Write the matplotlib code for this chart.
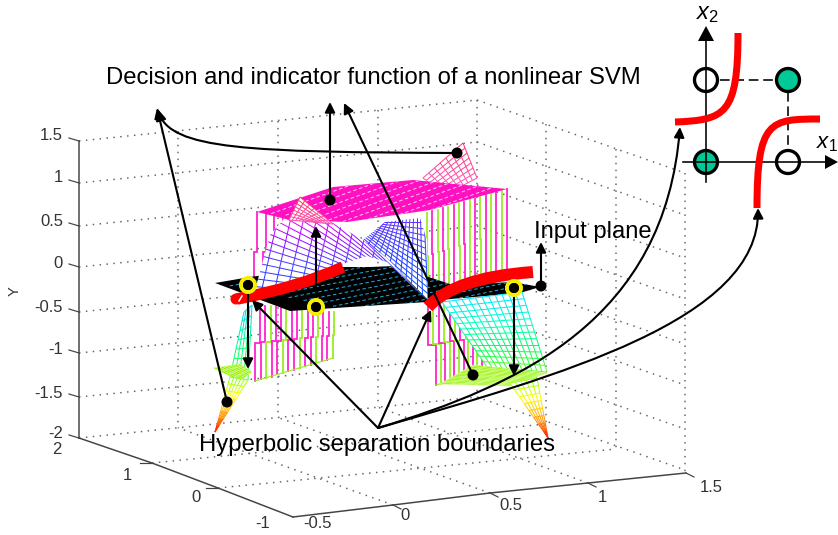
import numpy as np
import matplotlib
matplotlib.use("Agg")
import matplotlib.pyplot as plt
from matplotlib.collections import LineCollection
from matplotlib.patches import FancyArrowPatch, Polygon, Circle, PathPatch
from matplotlib.path import Path
from matplotlib.colors import LinearSegmentedColormap as LSC

plt.rcParams['font.family'] = ['Liberation Sans', 'DejaVu Sans']
plt.rcParams['mathtext.fontset'] = 'custom'
plt.rcParams['mathtext.rm'] = 'Liberation Sans'
plt.rcParams['mathtext.it'] = 'Liberation Sans:italic'

# ---- box (image-plane positions of the 3D MATLAB axes) ----
z_labels = ['1.5', '1', '0.5', '0', '-0.5', '-1', '-1.5', '-2']
z_tick_y = [141, 183, 226, 267, 312, 353, 397, 438]
z_label_y = [136, 178, 221, 263, 307, 350, 393, 434]
left_labels = ['2', '1', '0', '-1']
left_ticks = [(79, 438), (152, 463), (218, 488), (293, 517)]
left_label_pos = [(57, 450), (127, 475), (196, 498), (263, 523)]
right_labels = ['-0.5', '0', '0.5', '1', '1.5']
right_ticks = [(293, 517), (393, 505), (490, 493), (588, 483), (686, 473)]
right_label_pos = [(317, 524), (405, 515), (511, 506), (602, 497), (711, 487)]
back_corner_top = (477, 100)
wall_left_verticals = [178, 278, 378, 477]
wall_right_verticals = [546, 616, 685]

# ---- surfaces: mesh corners and visible outlines ----
plane_quad = [(215, 283), (372, 255), (540, 287), (392, 318)]
plane_outline = [(215, 283), (250, 277), (323, 267), (370, 267), (395, 266), (453, 285), (513, 282),
                 (540, 287), (520, 293), (440, 300), (427, 302), (335, 308), (290, 311)]
top_quad = [(257, 212), (360, 175), (507, 189), (400, 228)]
top_outline = [(257, 212), (333, 187), (413, 180), (507, 189), (430, 210), (347, 222), (290, 220)]
saddle_left = [(246, 302), (278, 160), (428, 300), (428, 300)]
saddle_left_outline = [(255, 290), (270, 235), (290, 212), (333, 223), (363, 240), (387, 258),
                       (427, 300), (387, 262), (367, 256), (348, 262), (300, 283)]
saddle_right = [(362, 240), (382, 221), (424, 216), (428, 300)]
saddle_right_outline = [(363, 240), (385, 222), (420, 218), (427, 240), (428, 300), (387, 258)]
saddle_low = [(442, 302), (522, 292), (547, 372), (487, 367)]
peak_left = [(300, 197), (333, 224), (312, 222), (289, 220)]
peak_right = [(463, 143), (477, 178), (445, 195), (423, 178)]
spike_right = [(510, 383), (537, 378), (548, 438), (548, 438)]
spike_left = [(230, 377), (248, 380), (215, 432), (215, 432)]
stem_left = [(244, 312), (252, 305), (248, 380), (230, 377)]
green_right = [(440, 384), (473, 365), (547, 373), (510, 386)]
green_left = [(213, 368), (240, 364), (252, 372), (240, 381)]
wall_upper_left = ([(257, 212), (300, 222)], [(254, 292), (300, 282)])
wall_lower_left = ([(260, 305), (334, 312)], [(255, 381), (333, 358)])
wall_right_high = ([(427, 213), (507, 189)], [(428, 298), (507, 272)])
wall_right_low = ([(428, 305), (482, 300)], [(436, 385), (482, 372)])

# ---- overlay ----
red_left = [(237, 299), (300, 287), (343, 267)]
red_right = [(428, 307), (447, 287), (480, 276), (533, 272)]
ring_points = [(248, 285), (316, 307), (514, 288)]
title = 'Decision and indicator function of a nonlinear SVM'
hyper_text = 'Hyperbolic separation boundaries'

open_pts = [(706, 80), (788, 162)]
filled_pts = [(788, 80), (706, 162)]
inset_red_a = [(675, 122), (725, 120), (738, 115), (738, 33)]
inset_red_b = [(820, 119), (770, 119), (757, 120), (757, 208)]

fig = plt.figure(figsize=(8.38, 5.35), dpi=100)
ax = fig.add_axes([0, 0, 1, 1])
ax.set_xlim(0, 838)
ax.set_ylim(535, 0)
ax.axis('off')

GRAY = '#444444'
PX = 0.72


def dotted(p, q):
    ax.plot([p[0], q[0]], [p[1], q[1]], color='#666666', lw=1.5 * PX,
            ls=(0, (1, 3.6)), zorder=1)


# grid: back walls and floor
dz_l = back_corner_top[1] - 141
dy_r = 173 - back_corner_top[1]
for y in z_tick_y:
    a = (79, y)
    b = (477, y + dz_l)
    c = (685, y + dz_l + dy_r)
    dotted(a, b)
    dotted(b, c)
for x in wall_left_verticals:
    f = (x - 79) / 398
    dotted((x, 141 + f * dz_l), (x, 438 + f * dz_l))
for x in wall_right_verticals:
    f = (x - 477) / 208
    dotted((x, 100 + f * dy_r), (x, 399 + f * (473 - 399)))
for t, tp in zip(left_ticks[1:3], [(546, 424), (616, 449)]):
    dotted(t, tp)
for t, x in zip(right_ticks[1:4], wall_left_verticals[:3]):
    f = (x - 79) / 398
    dotted(t, (x, 438 + f * dz_l))

# axes lines, ticks, labels
ax.plot([79, 79], [z_tick_y[0], z_tick_y[-1]], color=GRAY, lw=1.5 * PX, zorder=2)
ax.plot([p[0] for p in left_ticks], [p[1] for p in left_ticks], color=GRAY, lw=1.5 * PX, zorder=2)
ax.plot([p[0] for p in right_ticks], [p[1] for p in right_ticks], color=GRAY, lw=1.5 * PX, zorder=2)
for y, ly, s in zip(z_tick_y, z_label_y, z_labels):
    ax.plot([69, 79], [y - 3, y], color=GRAY, lw=1.2 * PX, zorder=2)
    ax.text(63, ly, s, ha='right', va='center', fontsize=12, color='#333333')
for (x, y) in left_ticks[1:3]:
    ax.plot([x - 12, x], [y, y], color=GRAY, lw=1.2 * PX, zorder=2)
for (lx, ly), s in zip(left_label_pos, left_labels):
    ax.text(lx, ly, s, ha='center', va='center', fontsize=12, color='#333333')
for (x, y) in right_ticks[1:]:
    ax.plot([x, x + 8], [y, y + 4], color=GRAY, lw=1.2 * PX, zorder=2)
for (lx, ly), s in zip(right_label_pos, right_labels):
    ax.text(lx, ly, s, ha='center', va='center', fontsize=12, color='#333333')
ax.text(15, 291, 'Y', rotation=90, ha='center', va='center', fontsize=10.5, color='#333333')


def bil(q, u, v):
    q = np.asarray(q, float)
    return ((1 - u) * (1 - v))[..., None] * q[0] + (u * (1 - v))[..., None] * q[1] + \
        (u * v)[..., None] * q[2] + ((1 - u) * v)[..., None] * q[3]


def mesh(q, n, m, cols, z, yr, lw=1.0, clip=None, fill=True):
    """Wire mesh over a four-corner patch; colour follows image height over yr."""
    cm = LSC.from_list('c', cols)
    us, vs = np.linspace(0, 1, n + 1), np.linspace(0, 1, m + 1)
    outline = clip if clip is not None else q
    if fill:
        ax.add_patch(Polygon(outline, fc='white', ec='none', zorder=z - 0.01))
    segs = []
    for u in us:
        for a, b in zip(vs[:-1], vs[1:]):
            segs.append(bil(q, np.array([u, u]), np.array([a, b])))
    for v in vs:
        for a, b in zip(us[:-1], us[1:]):
            segs.append(bil(q, np.array([a, b]), np.array([v, v])))
    colors = [cm(np.clip((s[:, 1].mean() - yr[0]) / (yr[1] - yr[0]), 0, 1)) for s in segs]
    lc = LineCollection(segs, colors=colors, linewidths=lw * PX, zorder=z)
    ax.add_collection(lc)
    if clip is not None:
        lc.set_clip_path(Polygon(clip, transform=ax.transData))


def dash_rows(q, outline, fill, line, m, z, lw=1.0, dash=(3.5, 2.5)):
    """Solid sheet with short parallel dashes, as the dense mesh looks when reduced."""
    ax.add_patch(Polygon(outline, fc=fill, ec='none', zorder=z))
    segs = [bil(q, np.array([0., 1.]), np.array([v, v])) for v in np.linspace(0, 1, m)[1:-1]]
    lc = LineCollection(segs, colors=line, linewidths=lw * PX, linestyles=[(0, dash)], zorder=z + 0.1)
    ax.add_collection(lc)
    lc.set_clip_path(Polygon(outline, transform=ax.transData))


def wall(edges, n, z, colors=('#ff22cc', '#ff22cc', '#99ee22')):
    top, bot = edges
    ts = np.linspace(0, 1, n)
    for i, t in enumerate(ts):
        xt = top[0][0] + t * (top[1][0] - top[0][0])
        yt = top[0][1] + t * (top[1][1] - top[0][1])
        xb = bot[0][0] + t * (bot[1][0] - bot[0][0])
        yb = bot[0][1] + t * (bot[1][1] - bot[0][1])
        col = colors[i % len(colors)]
        ym = (yt + yb) / 2
        ax.plot([xt, xt, xb, xb], [yt, ym, ym, yb], color=col, lw=1.8 * PX, zorder=z,
                solid_joinstyle='miter')
    ax.plot([p[0] for p in bot], [p[1] for p in bot], color='#99ee22', lw=1.2 * PX, zorder=z)


wall(wall_upper_left, 6, 3, ('#ff22cc',))
wall(wall_right_high, 16, 3, ('#99ee22', '#ff22cc'))
wall(wall_lower_left, 15, 3, ('#ff22cc', '#ff22cc', '#99ee22'))
wall(wall_right_low, 11, 3, ('#ff22cc', '#99ee22'))

mesh(peak_right, 7, 7, ['#ff3060', '#ff50b0'], 3.5, (143, 178))

dash_rows(plane_quad, plane_outline, '#000000', '#22a8d8', 13, 4)

MAGENTA_BLUE = ['#ff30e0', '#b000ff', '#4040ff', '#1030ff']
mesh(saddle_left, 18, 14, MAGENTA_BLUE, 5, (205, 295), clip=saddle_left_outline)
mesh(saddle_right, 13, 12, ['#6030ff', '#2040ff', '#0050ff'], 5, (220, 300), clip=saddle_right_outline)
mesh(saddle_low, 12, 12, ['#00e8ff', '#00ffc0', '#00ff60', '#60ff20'], 5.5, (300, 372))
mesh(stem_left, 4, 7, ['#00d0ff', '#00ff90', '#30ff30'], 4.5, (305, 378))

dash_rows(top_quad, top_outline, '#ff10c0', '#ffc8ee', 11, 6)

ax.add_patch(Polygon(green_right, fc='#99f000', ec='none', zorder=6))
mesh(green_right, 14, 6, ['#d8ffa0', '#d8ffa0'], 6.1, (0, 1), lw=0.7, fill=False)
ax.add_patch(Polygon(green_left, fc='#99f000', ec='none', zorder=6))
mesh(green_left, 8, 4, ['#d8ffa0', '#d8ffa0'], 6.1, (0, 1), lw=0.7, fill=False)
FLAME = ['#80ff20', '#ffff00', '#ffa000', '#ff2000']
mesh(spike_right, 5, 8, FLAME, 6.2, (378, 438))
mesh(spike_left, 5, 8, FLAME, 6.2, (377, 432))
mesh(peak_left, 7, 7, ['#ff3060', '#ff50b0'], 6.5, (197, 224))


def red_curve(pts, width, cap='butt'):
    codes = {3: [Path.MOVETO, Path.CURVE3, Path.CURVE3],
             4: [Path.MOVETO, Path.CURVE4, Path.CURVE4, Path.CURVE4]}[len(pts)]
    ax.add_patch(PathPatch(Path(pts, codes), fc='none', ec='#ff0000', lw=width * PX,
                           capstyle=cap, zorder=9))


red_curve(red_left, 11.5)
red_curve(red_right, 12)
ax.add_patch(Circle((236, 299), 5.5, fc='#ff0000', ec='none', zorder=9))
ax.plot([239, 242], [301, 296], color='white', lw=1.5 * PX, zorder=9.5)
red_curve(inset_red_a, 7)
red_curve(inset_red_b, 7)


def arrow(a, ms=15, lw=2.1, z=10):
    kw = dict(arrowstyle='-|>', mutation_scale=ms, lw=lw * PX, color='black',
              zorder=z, shrinkA=0, shrinkB=0)
    if isinstance(a, Path):
        ax.add_patch(FancyArrowPatch(path=a, **kw))
    else:
        ax.add_patch(FancyArrowPatch(a[0], a[1], **kw))


def dot(p, r=6):
    ax.add_patch(Circle(p, r, fc='black', ec='none', zorder=11))


straight_arrows = [
    ((227, 402), (157, 108)),
    ((330, 200), (330, 102)),
    ((473, 375), (344, 103)),
    ((316, 307), (316, 226)),
    ((248, 285), (248, 369)),
    ((514, 288), (514, 376)),
    ((541, 285), (541, 242)),
    ((378, 428), (252, 300)),
    ((378, 428), (431, 310)),
]
for s, e in straight_arrows:
    arrow((s, e))

C4 = [Path.MOVETO, Path.CURVE4, Path.CURVE4, Path.CURVE4]
arrow(Path([(457, 153), (250, 152), (170, 150), (158, 110)], C4))
arrow(Path([(378, 428), (520, 385), (665, 320), (680, 127)], C4))
arrow(Path([(378, 428), (560, 375), (760, 320), (758, 208)], C4))

for p in ring_points:
    ax.add_patch(Circle(p, 7, fc='black', ec='#f6f000', lw=4 * PX, zorder=10.5))
    dot(p, 5)
for p in [(227, 402), (330, 200), (473, 375), (457, 153), (541, 286)]:
    dot(p, 5.5)

# inset
ink = '#000000'
ax.plot([706, 706], [182, 40], color=ink, lw=1.6 * PX, zorder=8)
ax.plot([683, 826], [162, 162], color=ink, lw=1.6 * PX, zorder=8)
ax.add_patch(Polygon([(706, 26), (698, 41), (714, 41)], fc=ink, ec='none', zorder=8))
ax.add_patch(Polygon([(838, 162), (825, 155), (825, 169)], fc=ink, ec='none', zorder=8))
ax.plot([720, 775], [80, 80], color=ink, lw=1.6 * PX, ls=(0, (6, 3)), zorder=7)
ax.plot([788, 788], [92, 150], color=ink, lw=1.6 * PX, ls=(0, (6, 3)), zorder=7)
for p in filled_pts:
    ax.add_patch(Circle(p, 11.5, fc='#00c896', ec=ink, lw=3.3 * PX, zorder=7.5))
for p in open_pts:
    ax.add_patch(Circle(p, 11.5, fc='none', ec=ink, lw=3.3 * PX, zorder=8.5))
ax.text(708, 14, r'$x_2$', ha='center', va='center', fontsize=17, color=ink)
ax.text(838, 144, r'$x_1$', ha='right', va='center', fontsize=16, color=ink)

ax.text(106, 78, title, ha='left', va='center', fontsize=17.2, color='black', zorder=12)
ax.text(534, 232, 'Input plane', ha='left', va='center', fontsize=17.1, color='black', zorder=12)
ax.text(199, 445, hyper_text, ha='left', va='center', fontsize=17.2, color='black', zorder=12)

fig.savefig('out.png', dpi=100)
